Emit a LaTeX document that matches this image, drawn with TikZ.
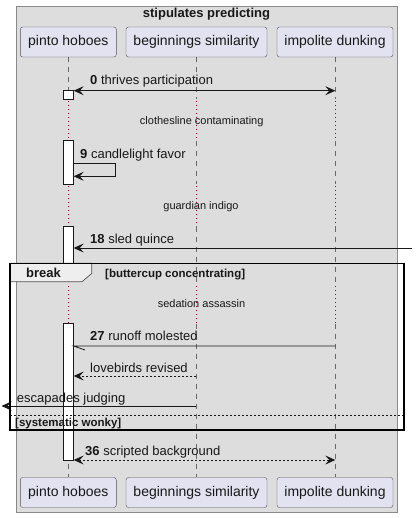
\documentclass[tikz,border=0pt]{standalone}
\usepackage{fontspec}
\setmainfont{Liberation Sans}
\usetikzlibrary{arrows.meta}
\definecolor{boxbg}{HTML}{DDDDDD}
\definecolor{boxline}{HTML}{8A8A8A}
\definecolor{partbg}{HTML}{E2E2F0}
\definecolor{delayred}{HTML}{A80036}
\definecolor{ink}{HTML}{181818}
\definecolor{tabbg}{HTML}{EEEEEE}
\begin{document}
\begin{tikzpicture}[x=1pt,y=-1pt,
  part/.style={draw=ink!75, fill=partbg, rounded corners=2.5pt, minimum height=30pt, inner sep=0pt, font=\fontsize{14}{16}\selectfont, text=ink},
  msg/.style={font=\fontsize{13}{15}\selectfont, anchor=base west, inner sep=0pt, text=ink},
  delaytxt/.style={font=\fontsize{11}{13}\selectfont, anchor=base, inner sep=0pt, text=ink},
  arr/.style={draw=ink, line width=0.8pt, -{Stealth[length=10pt,width=9pt,inset=4pt]}},
  darr/.style={draw=ink, line width=0.8pt, {Stealth[length=10pt,width=9pt,inset=4pt]}-{Stealth[length=10pt,width=9pt,inset=4pt]}},
  life/.style={draw=ink!65, dash pattern=on 5pt off 5pt, line width=0.6pt},
  dly/.style={draw=delayred, dash pattern=on 1.3pt off 2.7pt, line width=1pt},
  act/.style={draw=ink, fill=white, line width=0.8pt}]
\useasboundingbox (0,0) rectangle (418,518);
% outer box
\draw[fill=boxbg, draw=boxline, line width=0.8pt] (16.5,6) rectangle (397.7,512.7);
\node[font=\bfseries\fontsize{13}{15}\selectfont, anchor=base, inner sep=0pt, text=ink] (title) at (206.5,18) {stipulates predicting};
% lifelines
\foreach \x in {68.3,196.3,335.3}{
  \draw[life] (\x,57) -- (\x,99.5);
  \draw[dly] (\x,101) -- (\x,140.5);
  \draw[life] (\x,141) -- (\x,184);
  \draw[dly] (\x,186) -- (\x,226);
  \draw[life] (\x,226.5) -- (\x,283);
  \draw[dly] (\x,286) -- (\x,323);
  \draw[life] (\x,323.5) -- (\x,477);
}
% participants
\node[part, minimum width=96pt] (pA) at (68.3,42) {pinto hoboes};
\node[part, minimum width=141pt] (pB) at (196.5,42) {beginnings similarity};
\node[part, minimum width=116pt] (pC) at (335,42) {impolite dunking};
\node[part, minimum width=96pt] (pAb) at (68.3,492.5) {pinto hoboes};
\node[part, minimum width=141pt] (pBb) at (196.5,492.5) {beginnings similarity};
\node[part, minimum width=116pt] (pCb) at (335,492.5) {impolite dunking};
% activations
\draw[act] (63.3,90.7) rectangle (73.7,99);
\draw[act] (63.3,140.7) rectangle (73.7,184.3);
\draw[act] (63.3,226) rectangle (73.7,263.3);
\draw[act] (63.3,323) rectangle (73.7,460);
% message 0
\coordinate (m0a) at (73.7,90.7);
\coordinate (m0b) at (335.3,90.7);
\draw[darr] (m0a) -- (m0b);
\node[msg] (t0) at (90,85) {\textbf{0} thrives participation};
% delay 1
\node[delaytxt] (d1) at (201.7,124.3) {clothesline contaminating};
% message 9 self
\coordinate (m9a) at (73.7,163.3);
\coordinate (m9b) at (73.7,176.3);
\draw[arr] (m9a) -- (115.3,163.3) -- (115.3,176.3) -- (m9b);
\node[msg] (t9) at (80,159) {\textbf{9} candlelight favor};
% delay 2
\node[delaytxt] (d2) at (201,210) {guardian indigo};
% message 18
\coordinate (m18a) at (412,248);
\coordinate (m18b) at (73.7,248);
\draw[arr] (m18a) -- (m18b);
\node[msg] (t18) at (90,243.7) {\textbf{18} sled quince};
% break frame
\draw[fill=tabbg, draw=ink!75, line width=0.7pt] (10,263.3) -- (91.7,263.3) -- (91.7,273.5) -- (82,281.7) -- (10,281.7) -- cycle;
\node[font=\bfseries\fontsize{13}{15}\selectfont, anchor=base west, inner sep=0pt, text=ink] (brk) at (26,277.7) {break};
\node[font=\bfseries\fontsize{11.5}{13}\selectfont, anchor=base west, inner sep=0pt, text=ink] (g1) at (105,277) {[buttercup concentrating]};
% delay 3
\node[delaytxt] (d3) at (201.5,307.3) {sedation assassin};
% message 27 (half arrow)
\coordinate (m27a) at (335.3,346);
\coordinate (m27b) at (73.7,346);
\draw[draw=ink, line width=0.8pt] (m27a) -- (m27b) -- (85,350);
\node[msg] (t27) at (90,340.7) {\textbf{27} runoff molested};
% lovebirds
\coordinate (mla) at (196.3,376);
\coordinate (mlb) at (73.7,376);
\draw[arr, dash pattern=on 2pt off 2pt] (mla) -- (mlb);
\node[msg] (tl) at (90,372.3) {lovebirds revised};
% escapades
\coordinate (mea) at (196.3,406);
\coordinate (meb) at (1.5,406);
\draw[arr] (mea) -- (meb);
\node[msg] (te) at (16.7,402) {escapades judging};
% separator
\coordinate (sepa) at (10,415);
\coordinate (sepb) at (404,415);
\draw[draw=ink, line width=0.7pt, dash pattern=on 2pt off 2pt] (sepa) -- (sepb);
\node[font=\bfseries\fontsize{11.5}{13}\selectfont, anchor=base west, inner sep=0pt, text=ink] (g2) at (15,426.7) {[systematic wonky]};
\draw[draw=black, line width=1.5pt] (10,263.3) rectangle (404,430);
% message 36
\coordinate (m36a) at (73.7,460);
\coordinate (m36b) at (335.3,460);
\draw[darr, dash pattern=on 2pt off 2pt] (m36a) -- (m36b);
\node[msg] (t36) at (85,455) {\textbf{36} scripted background};
\end{tikzpicture}
\end{document}
